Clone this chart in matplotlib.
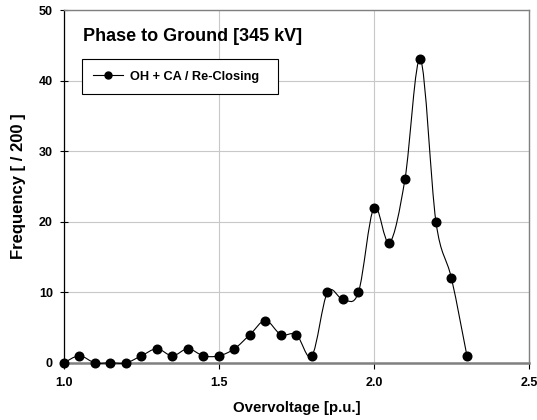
import matplotlib
matplotlib.use("Agg")
import matplotlib.pyplot as plt
from matplotlib.path import Path
from matplotlib.patches import PathPatch
from matplotlib.lines import Line2D
import numpy as np

plt.rcParams['font.family'] = ['Liberation Sans', 'DejaVu Sans']

overvoltage = [1.00, 1.05, 1.10, 1.15, 1.20, 1.25, 1.30, 1.35, 1.40, 1.45, 1.50,
               1.55, 1.60, 1.65, 1.70, 1.75, 1.80, 1.85, 1.90, 1.95, 2.00, 2.05,
               2.10, 2.15, 2.20, 2.25, 2.30]
frequency = [0, 1, 0, 0, 0, 1, 2, 1, 2, 1, 1, 2, 4, 6, 4, 4, 1, 10, 9, 10, 22, 17,
             26, 43, 20, 12, 1]
series_label = "OH + CA / Re-Closing"
title_text = "Phase to Ground [345 kV]"

fig = plt.figure(figsize=(5.37, 4.2), dpi=100)
ax = fig.add_axes([0.119, 0.136, 0.866, 0.840])

# smooth curve (Catmull-Rom as cubic Bezier segments), drawn in data coords
x = np.array(overvoltage, float)
y = np.array(frequency, float)
verts = [(x[0], y[0])]
codes = [Path.MOVETO]
n = len(x)
k = 1.0 / 6.0
for i in range(n - 1):
    p0 = np.array([x[max(i - 1, 0)], y[max(i - 1, 0)]])
    p1 = np.array([x[i], y[i]])
    p2 = np.array([x[i + 1], y[i + 1]])
    p3 = np.array([x[min(i + 2, n - 1)], y[min(i + 2, n - 1)]])
    c1 = p1 + (p2 - p0) * k
    c2 = p2 - (p3 - p1) * k
    verts += [tuple(c1), tuple(c2), tuple(p2)]
    codes += [Path.CURVE4] * 3
ax.add_patch(PathPatch(Path(verts, codes), facecolor='none', edgecolor='black',
                       lw=0.8, zorder=3, clip_on=False))
ax.plot(x, y, linestyle='none', marker='o', ms=6.2, color='black', zorder=4,
        clip_on=False)

ax.set_xlim(1.0, 2.5)
ax.set_ylim(0, 50)
ax.set_xticks([1.0, 1.5, 2.0, 2.5])
ax.set_xticklabels(['1.0', '1.5', '2.0', '2.5'])
ax.set_yticks([0, 10, 20, 30, 40, 50])
ax.grid(True, color='#c8c8c8', lw=0.8)
ax.set_axisbelow(True)

for s in ['top', 'right']:
    ax.spines[s].set_color('#808080')
    ax.spines[s].set_linewidth(1.0)
ax.spines['left'].set_color('black')
ax.spines['left'].set_linewidth(0.9)
ax.spines['bottom'].set_color('#808080')
ax.spines['bottom'].set_linewidth(1.8)

ax.tick_params(axis='x', direction='out', length=4, width=0.8, colors='black',
               labelsize=9, pad=6)
ax.tick_params(axis='y', direction='inout', length=6, width=0.8, colors='black',
               labelsize=9, pad=5)
for lab in ax.get_xticklabels() + ax.get_yticklabels():
    lab.set_fontweight('bold')

ax.set_xlabel('Overvoltage [p.u.]', fontsize=10.8, fontweight='bold', labelpad=9)
ax.set_ylabel('Frequency [ / 200 ]', fontsize=12, fontweight='bold', labelpad=9)

ax.text(0.04, 0.925, title_text, transform=ax.transAxes, fontsize=13,
        fontweight='bold', va='center', ha='left')

handle = Line2D([], [], color='black', lw=0.8, marker='o', ms=5)
leg = ax.legend([handle], [series_label], loc='upper left',
                bbox_to_anchor=(0.0387, 0.5, 0.4215, 0.361), mode='expand',
                borderaxespad=0, fancybox=False, framealpha=1,
                edgecolor='black', handlelength=2.3, handletextpad=0.6,
                borderpad=0.9, prop={'weight': 'bold', 'size': 9.2})
leg.get_frame().set_linewidth(0.8)

fig.savefig('out.png', dpi=100)
